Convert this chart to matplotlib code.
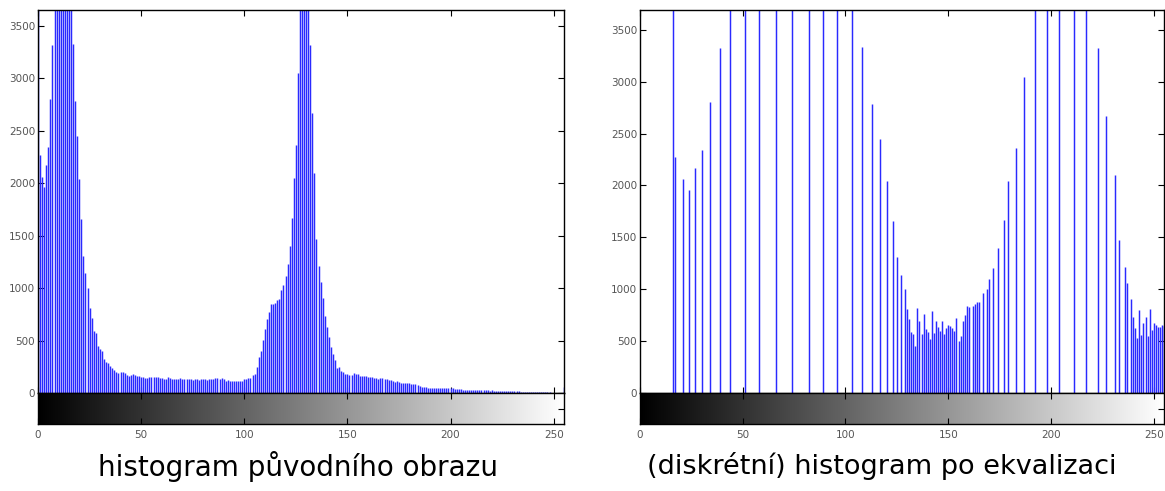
import numpy as np
import matplotlib.pyplot as plt

# histogram of the original image, bins 0..255
left_counts = [
    11000, 2270, 2060, 1960, 2170, 2340, 2800, 3320, 3700, 4700, 4700, 5600, 5400, 5400, 4800, 4800,
    4800, 3330, 2780, 2450, 2040, 1660, 1310, 1140, 1000, 810, 715, 590, 570, 450, 415, 400,
    320, 300, 285, 260, 235, 215, 200, 195, 197, 200, 195, 171, 165, 168, 178, 176,
    162, 160, 156, 154, 143, 145, 149, 150, 150, 148, 152, 143, 140, 133, 135, 148,
    146, 136, 138, 130, 136, 140, 132, 136, 130, 138, 130, 128, 131, 130, 126, 132,
    136, 134, 127, 136, 134, 138, 146, 144, 133, 139, 137, 117, 120, 116, 119, 117,
    115, 118, 116, 111, 136, 138, 143, 140, 171, 181, 251, 343, 400, 505, 610, 705,
    771, 851, 851, 860, 886, 893, 981, 1029, 1114, 1229, 1400, 1670, 2048, 2360, 3045, 4100,
    4100, 4800, 4100, 4100, 3320, 2670, 2100, 1467, 1215, 1055, 905, 730, 630, 533, 438, 371,
    314, 241, 251, 209, 203, 181, 181, 171, 175, 187, 181, 181, 162, 165, 160, 162,
    149, 152, 149, 140, 142, 138, 140, 140, 133, 130, 124, 126, 118, 108, 110, 104,
    98, 100, 95, 92, 93, 90, 86, 88, 80, 70, 60, 54, 55, 50, 48, 46,
    49, 47, 48, 45, 48, 46, 44, 43, 45, 44, 36, 35, 34, 36, 33, 30,
    29, 28, 30, 29, 27, 29, 28, 25, 24, 26, 25, 23, 25, 19, 20, 18,
    19, 18, 20, 19, 16, 15, 17, 16, 15, 16, 13, 12, 14, 13, 12, 13,
    6, 7, 6, 5, 7, 6, 5, 6, 6, 3, 3, 4, 3, 2, 3, 60,
]

# equalized histogram: occupied bins and their counts
right_bins = [
    16, 17, 21, 24, 27, 30, 34, 39, 44, 51, 58, 66, 74, 82, 89, 96, 103,
    108, 113, 117, 120, 123, 125, 127, 129, 130, 131, 132, 133, 134, 135,
    136, 137, 138, 139, 140, 141, 142, 143, 144, 145, 146, 147, 148, 149,
    150, 151, 152, 153, 154, 155, 156, 157, 158, 159, 160, 162, 163, 164,
    165, 167, 169, 170, 172, 174, 177, 179, 183, 187, 192, 198, 204, 211,
    217, 223, 227, 231, 233, 236, 237, 239, 240, 241, 242, 243, 244, 245,
    246, 247, 248, 249, 250, 251, 252, 253, 254, 255,
]
right_counts = [
    11000, 2270, 2060, 1960, 2170, 2340, 2800, 3320, 3700, 4700, 4700, 5600, 5400, 5400, 4800, 4800, 4800,
    3330, 2780, 2450, 2040, 1660, 1310, 1140, 1000, 810, 715, 590, 570, 450, 822,
    689, 571, 765, 616, 584, 521, 790, 578, 695, 632, 594, 689, 568, 625,
    657, 641, 625, 600, 727, 498, 552, 689, 752, 841, 832, 841, 857, 873,
    873, 968, 1006, 1095, 1206, 1400, 1670, 2045, 2360, 3045, 4100, 4100, 4800, 4100,
    4100, 3320, 2670, 2100, 1470, 1215, 1057, 905, 733, 629, 533, 800, 562, 676,
    737, 546, 810, 610, 676, 657, 638, 638, 651, 650,
]

x_ticks = [0, 50, 100, 150, 200, 250]
y_ticks = [0, 500, 1000, 1500, 2000, 2500, 3000, 3500]
titles = ['histogram původního obrazu', '(diskrétní) histogram po ekvalizaci']

W, H = 1165, 491
fig = plt.figure(figsize=(W / 100, H / 100), dpi=100)
grad = np.linspace(0, 1, 256).reshape(1, -1)


def panel(x0, x1, bins, counts, ymax):
    # histogram axes
    ax = fig.add_axes([x0 / W, (H - 393) / H, (x1 - x0) / W, 383 / H])
    ax.vlines(bins, 0, counts, color='#2a2aff', lw=1.05)
    ax.set_xlim(0, 255)
    ax.set_ylim(0, ymax)
    ax.set_xticks(x_ticks)
    ax.set_yticks(y_ticks)
    ax.tick_params(direction='in', length=4, width=0.8, top=True, right=True,
                   labelbottom=False, labelsize=7.5, labelcolor='#555555', pad=2)
    for s in ax.spines.values():
        s.set_linewidth(1.0)

    # gray level strip
    cb = fig.add_axes([x0 / W, (H - 424) / H, (x1 - x0) / W, 31 / H])
    cb.imshow(grad, cmap='gray', aspect='auto', extent=[0, 255, 0, 1],
              interpolation='bilinear')
    cb.set_xlim(0, 255)
    cb.set_ylim(0, 1)
    cb.set_xticks(x_ticks)
    cb.set_yticks([0.5])
    cb.tick_params(direction='in', length=4, width=0.8, top=True, right=True,
                   left=False, labelleft=False, labelsize=7.5,
                   labelcolor='#555555', pad=4)
    for s in cb.spines.values():
        s.set_linewidth(1.0)
    return ax


panel(38, 564, list(range(256)), left_counts, 3650)
panel(640, 1164, right_bins, right_counts, 3690)

fig.text(298 / W, (H - 466) / H, titles[0], ha='center', va='center', fontsize=20)
fig.text(882 / W, (H - 466) / H, titles[1], ha='center', va='center', fontsize=19.5)

fig.savefig('out.png', dpi=100)
